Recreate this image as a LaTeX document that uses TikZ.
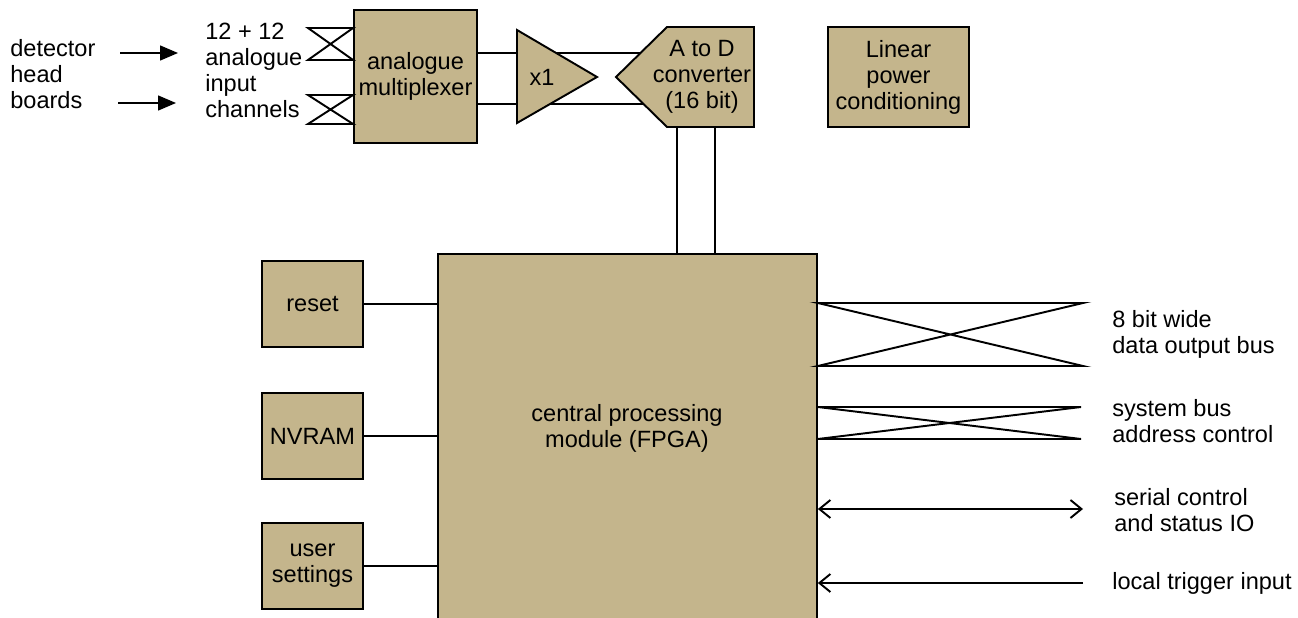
\documentclass[tikz,border=0pt]{standalone}
\usepackage{fontspec}
\setmainfont{Liberation Sans}
\usetikzlibrary{arrows.meta, positioning, calc}
\definecolor{boxtan}{RGB}{196,181,140}

\begin{document}
\begin{tikzpicture}
	[
	x=0.02cm, y=-0.02cm,
	font=\fontsize{13.4}{14.8}\selectfont,
        block/.style={
            rectangle,
            draw,
            line width=1.1pt,
            fill=boxtan,
            align=center,
            inner sep=0pt
        },
        note/.style={
            anchor=west,
            align=left,
            inner sep=0pt
        },
        wire/.style={
            line width=1.1pt
        },
        feed/.style={
            line width=0.8pt,
            -{Triangle[length=0.36cm, width=0.3cm]}
        },
        port/.style={
            line width=1.1pt,
            {Straight Barb[length=0.22cm, width=0.36cm]}-{Straight Barb[length=0.22cm, width=0.36cm]}
        },
        inport/.style={
            line width=1.1pt,
            -{Straight Barb[length=0.22cm, width=0.36cm]}
        }
    ]
    \useasboundingbox (0,0) rectangle (1298,618);

    % inputs
    \node(heads) [note] at (10,74) {detector\\head\\boards};
    \node(channels) [note] at (205,70) {12 + 12\\analogue\\input\\channels};
    \coordinate (feedA) at (120,53);
    \coordinate (feedAend) at (178,53);
    \coordinate (feedB) at (118,103);
    \coordinate (feedBend) at (176,103);
    \draw[feed] (feedA)--(feedAend);
    \draw[feed] (feedB)--(feedBend);

    \node(mux) [block, minimum width=2.46cm, minimum height=2.66cm] at (415.5,76.5) {analogue\\multiplexer};
    \draw[wire] (308,28)--(mux.west |- 0,28)--(308,60)--(mux.west |- 0,60)--cycle;
    \draw[wire] (308,95)--(mux.west |- 0,95)--(308,124)--(mux.west |- 0,124)--cycle;

    % buffer and converter
    \coordinate (adcTip) at (616,77);
    \coordinate (adcNW) at (667,27);
    \coordinate (adcNE) at (754,27);
    \coordinate (adcSE) at (754,127);
    \coordinate (adcSW) at (667,127);
    \draw[wire] (mux.east |- 0,53)--(adcNW |- 0,53);
    \draw[wire] (mux.east |- 0,104)--(adcNW |- 0,104);

    \coordinate (bufTop) at (517,30);
    \coordinate (bufTip) at (597,77);
    \coordinate (bufBot) at (517,123);
    \filldraw[wire, fill=boxtan] (bufTop)--(bufTip)--(bufBot)--cycle;
    \node(buffer) at (542,77) {x1};

    \filldraw[wire, fill=boxtan] (adcTip)--(adcNW)--(adcNE)--(adcSE)--(adcSW)--cycle;
    \node(adc) [align=center] at (702,77) {A to D\\converter\\(16 bit)};

    \node(power) [block, minimum width=2.82cm, minimum height=2cm] at (898.5,77) {Linear\\power\\conditioning};

    % processing module
    \node(cpu) [block, minimum width=7.58cm, minimum height=7.6cm, anchor=north west] at (437,253) {};
    \node(cpuText) [align=center] at (627,428) {central processing\\module (FPGA)};

    \coordinate (adcOutA) at (677,127);
    \coordinate (adcOutB) at (715,127);
    \draw[wire] (adcOutA)--(cpu.north -| adcOutA);
    \draw[wire] (adcOutB)--(cpu.north -| adcOutB);

    \node(reset) [block, minimum width=2.02cm, minimum height=1.72cm] at (312.5,304) {reset};
    \node(nvram) [block, minimum width=2.02cm, minimum height=1.72cm] at (312.5,436) {NVRAM};
    \node(settings) [block, minimum width=2.02cm, minimum height=1.72cm] at (312.5,566) {user\\settings};

    \draw[wire] (reset)--(reset -| cpu.west);
    \draw[wire] (nvram)--(nvram -| cpu.west);
    \draw[wire] (settings)--(settings -| cpu.west);

    % outputs
    \draw[wire] (cpu.east |- 0,303)--(1083,303)--(cpu.east |- 0,366)--(1083,366)--cycle;
    \draw[wire] (cpu.east |- 0,407)--(1081,407)--(cpu.east |- 0,439)--(1081,439)--cycle;
    \coordinate (serialEnd) at (1083,509);
    \coordinate (triggerStart) at (1083,583);
    \draw[port] (cpu.east |- serialEnd)--(serialEnd);
    \draw[inport] (triggerStart)--(cpu.east |- triggerStart);

    \node(dataBus) [note] at (1112,334) {8 bit wide\\data output bus};
    \node(sysBus) [note] at (1112,421) {system bus\\address control};
    \node(serial) [note] at (1114,510) {serial control\\and status IO};
    \node(trigger) [note] at (1112,583) {local trigger input};
\end{tikzpicture}
\end{document}
